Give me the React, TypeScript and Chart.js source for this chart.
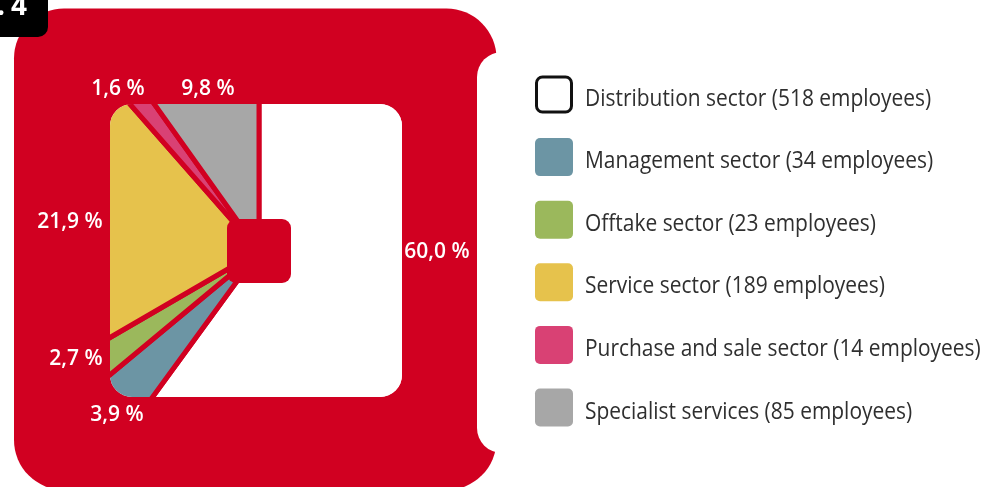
import React, { useEffect, useRef } from 'react';
import { Chart, registerables } from 'chart.js';

Chart.register(...registerables);

// ---- data ----
const categories = [
  'Distribution sector',
  'Management sector',
  'Offtake sector',
  'Service sector',
  'Purchase and sale sector',
  'Specialist services',
];
const employees = [518, 34, 23, 189, 14, 85];
const sliceColors = ['#ffffff', '#6c95a4', '#9bb85c', '#e6c24c', '#d94174', '#a7a7a7'];
// label anchor (centre) for each percentage annotation
const labelAnchors: [number, number][] = [
  [437, 250],
  [117, 413],
  [76, 357],
  [70, 220],
  [118, 87],
  [208, 87],
];
const figurePrefix = '2.';
const figureSuffix = '4';

const RED = '#d10021';
const W = 988;
const H = 487;

const pctText = (v: number, total: number) => (v / total * 100).toFixed(1).replace('.', ',') + ' %';

const framePlugin = {
  id: 'frame',
  beforeDraw(chart: any) {
    const ctx = chart.ctx as CanvasRenderingContext2D;
    ctx.save();
    ctx.fillStyle = '#ffffff';
    ctx.fillRect(0, 0, W, H);
    // red frame
    ctx.fillStyle = RED;
    ctx.beginPath();
    ctx.roundRect(14, 8.5, 482.5, 481.5, 50);
    ctx.fill();
    // notch on the right
    ctx.fillStyle = '#ffffff';
    ctx.beginPath();
    ctx.roundRect(477, 52, 80, 401, 25);
    ctx.fill();
    // black tab
    ctx.fillStyle = '#000000';
    ctx.beginPath();
    ctx.roundRect(-12, -12, 60, 49, 10);
    ctx.fill();
    ctx.fillStyle = '#ffffff';
    ctx.font = 'bold 28px "Open Sans"';
    ctx.textBaseline = 'alphabetic';
    ctx.textAlign = 'right';
    ctx.fillText(figurePrefix, 5, 15);
    ctx.textAlign = 'left';
    ctx.fillText(figureSuffix, 11, 15);
    // inner white square
    ctx.fillStyle = '#ffffff';
    ctx.beginPath();
    ctx.roundRect(110, 104, 292, 293, 22);
    ctx.fill();
    ctx.restore();
  },
  beforeDatasetsDraw(chart: any) {
    const ctx = chart.ctx as CanvasRenderingContext2D;
    ctx.save();
    ctx.beginPath();
    ctx.roundRect(110, 104, 292, 293, 22);
    ctx.clip();
  },
  afterDatasetsDraw(chart: any) {
    const ctx = chart.ctx as CanvasRenderingContext2D;
    ctx.restore();
    ctx.save();
    const arc = chart.getDatasetMeta(0).data[0];
    const cx = arc.x;
    const cy = arc.y;
    // centre square
    ctx.fillStyle = RED;
    ctx.beginPath();
    ctx.roundRect(cx - 32, cy - 32, 64, 64, 9);
    ctx.fill();
    // percentage labels
    const total = employees.reduce((a, b) => a + b, 0);
    ctx.fillStyle = '#ffffff';
    ctx.font = '600 21px "Open Sans"';
    ctx.textAlign = 'center';
    ctx.textBaseline = 'alphabetic';
    employees.forEach((v, i) => {
      const [lx, ly] = labelAnchors[i];
      ctx.fillText(pctText(v, total), lx, ly + 8);
    });
    // legend
    const top = 94.5;
    const step = 62.6;
    ctx.font = '23px "Open Sans"';
    ctx.textAlign = 'left';
    categories.forEach((c, i) => {
      const yc = top + step * i;
      if (i === 0) {
        ctx.fillStyle = '#ffffff';
        ctx.strokeStyle = '#111111';
        ctx.lineWidth = 3;
        ctx.beginPath();
        ctx.roundRect(536.5, yc - 17.5, 35, 35, 6);
        ctx.fill();
        ctx.stroke();
      } else {
        ctx.fillStyle = sliceColors[i];
        ctx.beginPath();
        ctx.roundRect(535, yc - 19, 38, 38, 5);
        ctx.fill();
      }
      ctx.fillStyle = '#2f2f2f';
      ctx.save();
      ctx.translate(585, yc + 11);
      ctx.scale(0.91, 1);
      ctx.fillText(`${c} (${employees[i]} employees)`, 0, 0);
      ctx.restore();
    });
    ctx.restore();
  },
};

export default function App() {
  const ref = useRef<HTMLCanvasElement | null>(null);
  useEffect(() => {
    if (!ref.current) return;
    const chart = new Chart(ref.current, {
      type: 'pie',
      data: {
        labels: categories,
        datasets: [
          {
            data: employees,
            backgroundColor: sliceColors,
            borderColor: RED,
            borderWidth: 5,
            hoverOffset: 0,
          },
        ],
      },
      options: {
        responsive: false,
        animation: false,
        events: [],
        layout: { padding: { left: 29, top: 21, right: 499, bottom: 6 } },
        plugins: { legend: { display: false }, tooltip: { enabled: false } },
      },
      plugins: [framePlugin],
    });
    return () => chart.destroy();
  }, []);
  return (
    <div style={{ position: 'absolute', left: 0, top: 0, width: W, height: H, background: '#fff' }}>
      <canvas ref={ref} width={W} height={H} style={{ display: 'block' }} />
    </div>
  );
}
